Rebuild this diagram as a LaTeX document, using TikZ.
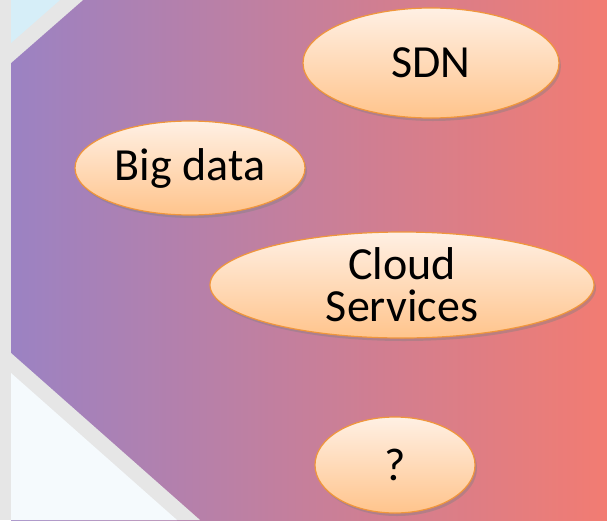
\documentclass[tikz,border=0pt]{standalone}
\usepackage{fontspec}
\setmainfont{Carlito}
\usetikzlibrary{shapes.geometric,shadows}
\definecolor{leftpurple}{RGB}{155,130,195}
\definecolor{rightcoral}{RGB}{242,124,114}
\definecolor{edgegray}{RGB}{230,230,230}
\definecolor{paleblue}{RGB}{214,238,248}
\definecolor{paleblue2}{RGB}{245,250,253}
\definecolor{peachtop}{RGB}{255,240,228}
\definecolor{peachbot}{RGB}{255,196,140}
\definecolor{peachline}{RGB}{240,150,60}

\begin{document}
\begin{tikzpicture}[x=1pt,y=1pt,
                    every node/.style={font=\fontsize{46}{42}\selectfont}]
  \tikzstyle{topic}=[ellipse,draw=peachline,line width=1.2pt,inner sep=0pt,
                     top color=peachtop,bottom color=peachbot,text=black,
                     align=center,
                     drop shadow={shadow xshift=2pt,shadow yshift=-3pt,opacity=0.4}]

  % background
  \useasboundingbox (0,0) rectangle (607,-520);
  \fill[edgegray] (0,0) rectangle (607,-520);
  \shade[left color=leftpurple,right color=rightcoral] (11,0) rectangle (607,-520);
  \fill[edgegray] (11,0) -- (83,0) -- (11,-63) -- cycle;
  \fill[paleblue] (11,0) -- (60,0) -- (11,-43) -- cycle;
  \fill[edgegray] (11,-353) -- (200,-520) -- (11,-520) -- cycle;
  \fill[paleblue2] (11,-373) -- (177,-520) -- (11,-520) -- cycle;

  \node[topic,minimum width=256pt,minimum height=110pt] (sdn)   at (431,-63)  {SDN};
  \node[topic,minimum width=230pt,minimum height=94pt]  (big)   at (190,-168) {Big data};
  \node[topic,minimum width=384pt,minimum height=106pt] (cloud) at (402,-285) {Cloud\\Services};
  \node[topic,minimum width=160pt,minimum height=96pt]  (what)  at (395,-465) {?};
\end{tikzpicture}
\end{document}
